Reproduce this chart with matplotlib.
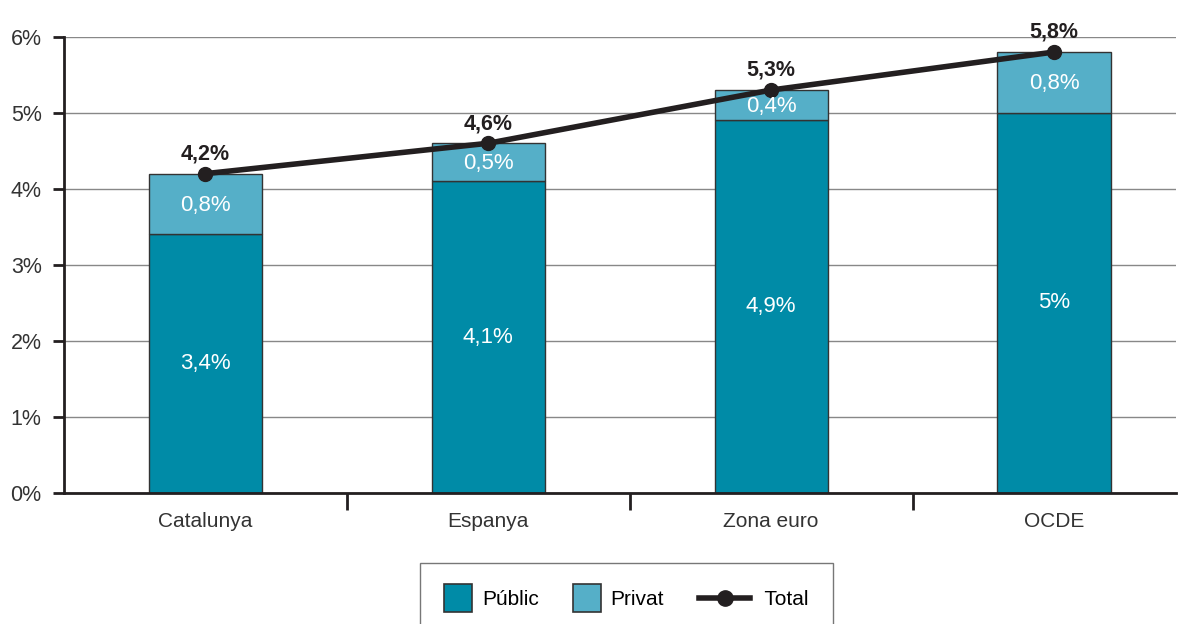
import matplotlib.pyplot as plt
from matplotlib.lines import Line2D
from matplotlib.patches import Patch, Rectangle
from matplotlib.legend_handler import HandlerBase

plt.rcParams['font.family'] = ['Liberation Sans', 'DejaVu Sans']

regions = ['Catalunya', 'Espanya', 'Zona euro', 'OCDE']
public = [3.4, 4.1, 4.9, 5.0]
private = [0.8, 0.5, 0.4, 0.8]
total = [4.2, 4.6, 5.3, 5.8]
public_labels = ['3,4%', '4,1%', '4,9%', '5%']
private_labels = ['0,8%', '0,5%', '0,4%', '0,8%']
total_labels = ['4,2%', '4,6%', '5,3%', '5,8%']

c_pub = '#008BA7'
c_priv = '#55AFC8'
c_dark = '#231F20'


class SquareHandler(HandlerBase):
    # square swatch filling the handle box
    def create_artists(self, legend, orig_handle, xdescent, ydescent, width, height, fontsize, trans):
        side = width
        y0 = -ydescent + (height - side) / 2
        p = Rectangle((-xdescent, y0), side, side, facecolor=orig_handle.get_facecolor(),
                      edgecolor=orig_handle.get_edgecolor(), linewidth=1.2, transform=trans)
        return [p]


class LineDotHandler(HandlerBase):
    # long line with a dot, wider than the square swatches
    def create_artists(self, legend, orig_handle, xdescent, ydescent, width, height, fontsize, trans):
        cx = -xdescent + width / 2 + 9
        cy = -ydescent + height / 2
        half = 18.5
        line = Line2D([cx - half, cx + half], [cy, cy], color=c_dark, linewidth=4, transform=trans)
        dot = Line2D([cx], [cy], color=c_dark, marker='o', markersize=11, linestyle='none', transform=trans)
        return [line, dot]


fig = plt.figure(figsize=(11.84, 6.24), dpi=100)
ax = fig.add_axes([0.054, 0.21, 0.939, 0.731])

x = range(len(regions))
ax.bar(x, public, width=0.4, color=c_pub, edgecolor='#333333', linewidth=1, zorder=2)
ax.bar(x, private, width=0.4, bottom=public, color=c_priv, edgecolor='#333333', linewidth=1, zorder=2)
ax.plot(x, total, color=c_dark, linewidth=4, marker='o', markersize=10, zorder=3)

for i in x:
    ax.text(i, public[i] / 2, public_labels[i], ha='center', va='center', color='white', fontsize=16)
    ax.text(i, public[i] + private[i] / 2 - 0.02, private_labels[i], ha='center', va='center', color='white', fontsize=16)
    ax.text(i, total[i] + 0.12, total_labels[i], ha='center', va='bottom', color=c_dark, fontsize=15.5, fontweight='bold')

ax.set_yticks(range(7))
ax.set_yticklabels([f'{v}%' for v in range(7)], fontsize=15.5, color='#333333')
ax.yaxis.grid(True, color='#888888', linewidth=1, zorder=0)
ax.set_axisbelow(True)

ax.set_xticks([0.5, 1.5, 2.5])
ax.set_xticklabels([])
ax.set_xticks(list(x), minor=True)
ax.set_xticklabels(regions, minor=True, fontsize=15, color='#333333')
ax.tick_params(axis='x', which='major', length=12, width=2, color=c_dark)
ax.tick_params(axis='x', which='minor', length=0, pad=14)
ax.tick_params(axis='y', length=8, width=2, color=c_dark, pad=8)

ax.set_ylim(0, 6)
ax.set_xlim(-0.5, 3.43)

for s in ['top', 'right']:
    ax.spines[s].set_visible(False)
for s in ['left', 'bottom']:
    ax.spines[s].set_linewidth(2)
    ax.spines[s].set_color(c_dark)

handles = [
    Patch(facecolor=c_pub, edgecolor='#333333', label='Públic'),
    Patch(facecolor=c_priv, edgecolor='#333333', label='Privat'),
    Line2D([0], [0], color=c_dark, linewidth=4, marker='o', label='     Total'),
]
leg = fig.legend(handles=handles, loc='upper center', bbox_to_anchor=(0.529, 0.098), ncol=3,
                 fontsize=15, frameon=True, fancybox=False, edgecolor='#555555',
                 handlelength=1.34, handleheight=1.34, handletextpad=0.48, columnspacing=1.63,
                 borderpad=1.15, borderaxespad=0,
                 handler_map={Patch: SquareHandler(), Line2D: LineDotHandler()})
leg.get_frame().set_linewidth(1)

fig.savefig('out.png', dpi=100)
